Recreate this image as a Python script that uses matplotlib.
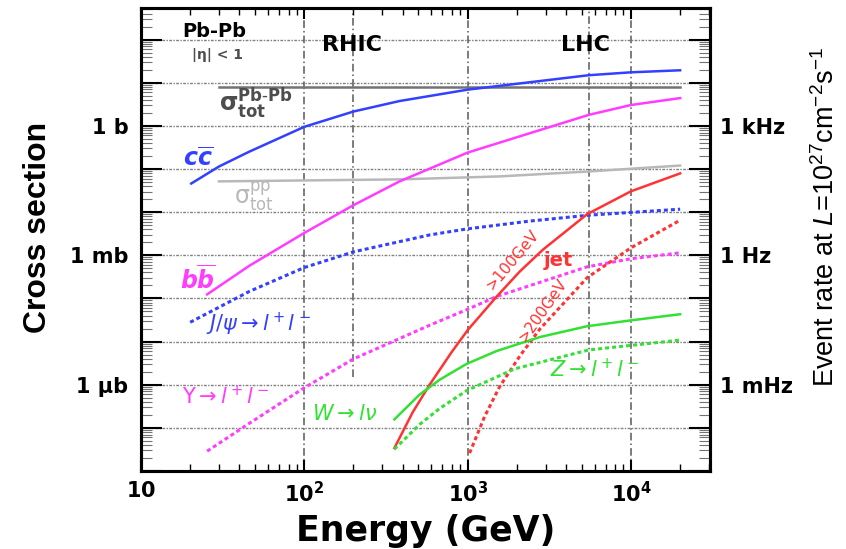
import numpy as np
import matplotlib.pyplot as plt
from matplotlib.ticker import LogLocator, NullFormatter

# energy (GeV) and cross section (barn)
E_cc = [20.3, 30, 46, 100, 200, 383, 1000, 5500, 10000, 20000]
sig_cc = [0.046, 0.114, 0.252, 0.95, 2.15, 3.76, 6.9, 14.9, 17.4, 19.4]

E_bb = [25.4, 46, 100, 200, 383, 1000, 5500, 10000, 20000]
sig_bb = [1.24e-4, 5.7e-4, 3.3e-3, 0.0145, 0.0516, 0.24, 1.79, 3.04, 4.4]

E_jpsi = [20, 46, 100, 200, 585, 986, 2400, 5520, 20000]
sig_jpsi = [2.8e-5, 1.45e-4, 5.2e-4, 1.2e-3, 2.96e-3, 4.07e-3, 6.2e-3, 8.5e-3, 0.0117]

E_ups = [25.4, 46, 100, 200, 585, 1000, 1507, 5400, 10000, 20000]
sig_ups = [2.88e-8, 1.27e-7, 8.5e-7, 3.96e-6, 2.39e-5, 5.6e-5, 1.11e-4, 5.4e-4, 8.3e-4, 1.14e-3]

E_jet100 = [356, 460, 585, 798, 1000, 1507, 2085, 2885, 5400, 10000, 20000]
sig_jet100 = [3.4e-8, 2.27e-7, 1.0e-6, 5.7e-6, 1.84e-5, 1.11e-4, 4.2e-4, 1.34e-3, 9.0e-3, 0.0304, 0.079]

E_jet200 = [1028, 1271, 1570, 2085, 2765, 5400, 10000, 20000]
sig_jet200 = [2.6e-8, 1.84e-7, 9.0e-7, 4.6e-6, 1.94e-5, 3.04e-4, 1.49e-3, 6.5e-3]

E_W = [356, 508, 673, 986, 1507, 2765, 5400, 10000, 20000]
sig_W = [1.57e-7, 5.9e-7, 1.30e-6, 3.04e-6, 6.05e-6, 1.27e-5, 2.27e-5, 3.1e-5, 4.3e-5]

E_Z = [356, 508, 673, 986, 1940, 5520, 20000]
sig_Z = [3.2e-8, 1.2e-7, 2.8e-7, 7.3e-7, 2.33e-6, 6.4e-6, 1.08e-5]

E_pbpb = [30, 20000]
sig_pbpb = [8.0, 8.0]

E_pp = [30, 383, 1570, 5520, 20000]
sig_pp = [0.0516, 0.0574, 0.0673, 0.0876, 0.120]

machines = [200, 5500]          # RHIC, LHC energies
decades_x = [10, 100, 1000, 10000]
xlabels = [r'$\mathbf{10}$', r'$\mathbf{10^2}$', r'$\mathbf{10^3}$', r'$\mathbf{10^4}$']
decades_y = 10.0 ** np.arange(-8, 3)
left_labels = {1.0: '1 b', 1e-3: '1 mb', 1e-6: '1 \u03bcb'}
right_labels = {1.0: '1 kHz', 1e-3: '1 Hz', 1e-6: '1 mHz'}

plt.rcParams['font.family'] = ['DejaVu Sans']
plt.rcParams['mathtext.fontset'] = 'dejavusans'
plt.rcParams['mathtext.rm'] = 'Liberation Sans'
plt.rcParams['mathtext.it'] = 'Liberation Sans:italic'
plt.rcParams['mathtext.bf'] = 'Liberation Sans:bold'

blue = '#3340ff'
magenta = '#ff3cff'
red = '#ff3333'
green = '#33e033'
dash = (0, (1.3, 1.0))

fig = plt.figure(figsize=(8.46, 5.49), dpi=100)
ax = fig.add_axes([0.1667, 0.1421, 0.6726, 0.8434])
ax.set_xscale('log')
ax.set_yscale('log')
ax.set_xlim(10, 3.05e4)
ax.set_ylim(1e-8, 5.4e2)

# grid: horizontal decades, vertical lines at decades and machine energies
for d in decades_y:
    ax.axhline(d, color='0.5', lw=1, ls=(0, (2, 1, 1, 1)), zorder=1)
for e in decades_x[1:]:
    ax.axvline(e, color='0.35', lw=1.1, ls=(0, (5, 2, 1, 2)), zorder=1)
ax.axvline(machines[0], ymin=0.203, color='0.35', lw=1.1, ls=(0, (5, 2, 1, 2)), zorder=1)
ax.axvline(machines[1], ymin=0.24, color='0.35', lw=1.1, ls=(0, (5, 2, 1, 2)), zorder=1)

ax.plot(E_pbpb, sig_pbpb, color='0.45', lw=1.8)
ax.plot(E_pp, sig_pp, color='0.72', lw=1.8)
ax.plot(E_cc, sig_cc, color=blue, lw=1.8)
ax.plot(E_bb, sig_bb, color=magenta, lw=1.8)
ax.plot(E_jpsi, sig_jpsi, color=blue, lw=2.2, ls=dash)
ax.plot(E_ups, sig_ups, color=magenta, lw=2.2, ls=dash)
ax.plot(E_jet100, sig_jet100, color=red, lw=1.8)
ax.plot(E_jet200, sig_jet200, color=red, lw=2.2, ls=dash)
ax.plot(E_W, sig_W, color=green, lw=1.8)
ax.plot(E_Z, sig_Z, color=green, lw=2.2, ls=dash)

# labels on the plot
ax.text(28, 152, 'Pb-Pb', fontsize=14, weight='bold', ha='center', va='center')
ax.text(29.3, 43, '|\u03b7| < 1', fontsize=10, weight='bold', color='0.3', ha='center', va='center')
ax.text(197, 76, 'RHIC', fontsize=16, weight='bold', ha='center', va='center')
ax.text(5300, 76, 'LHC', fontsize=16, weight='bold', ha='center', va='center')
ax.text(50.8, 3.3, r'$\mathbf{\sigma^{Pb\text{-}Pb}_{tot}}$', fontsize=17, color='0.3', ha='center', va='center')
ax.text(49.4, 0.023, r'$\mathrm{\sigma^{pp}_{tot}}$', fontsize=17, color='0.72', ha='center', va='center')
ax.text(22.4, 0.174, r'$\mathbfit{c\overline{c}}$', fontsize=17, color=blue, ha='center', va='center')
ax.text(22.4, 2.75e-4, r'$\mathbfit{b\overline{b}}$', fontsize=17, color=magenta, ha='center', va='center')
ax.text(25.1, 2.5e-5, r'$J/\psi\rightarrow l^+l^-$', fontsize=15, color=blue, ha='left', va='center')
ax.text(17.8, 5.3e-7, r'$\Upsilon\rightarrow l^+l^-$', fontsize=15, color=magenta, ha='left', va='center')
ax.text(112, 2.15e-7, r'$W\rightarrow l\nu$', fontsize=15, color=green, ha='left', va='center')
ax.text(3180, 2.2e-6, r'$Z\rightarrow l^+l^-$', fontsize=15, color=green, ha='left', va='center')
ax.text(3610, 7.4e-4, 'jet', fontsize=14, weight='bold', color=red, ha='center', va='center')
ax.text(1890, 7.9e-4, '>100GeV', fontsize=11, color=red, rotation=50, ha='center', va='center')
ax.text(2880, 5.3e-5, '>200GeV', fontsize=11, color=red, rotation=55, ha='center', va='center')

# axes and ticks
ax.set_xticks(decades_x)
ax.set_xticklabels(xlabels, fontsize=15)
ax.xaxis.set_minor_locator(LogLocator(base=10, subs=np.arange(2, 10), numticks=100))
ax.xaxis.set_minor_formatter(NullFormatter())
ax.tick_params(axis='x', which='major', direction='in', length=8, width=1.5, pad=7, top=True)
ax.tick_params(axis='x', which='minor', direction='in', length=5, width=1, top=True)

ax.set_yticks(decades_y)
ax.set_yticklabels([left_labels.get(d, '') for d in decades_y], fontsize=15, weight='bold')
ax.yaxis.set_minor_locator(LogLocator(base=10, subs=np.arange(2, 10), numticks=100))
ax.yaxis.set_minor_formatter(NullFormatter())
ax.tick_params(axis='y', which='major', direction='in', length=15, width=1.5, pad=9)
ax.tick_params(axis='y', which='minor', direction='in', length=8, width=0.8, color='0.45')

ax2 = ax.twinx()
ax2.set_yscale('log')
ax2.set_ylim(ax.get_ylim())
ax2.set_yticks(decades_y)
ax2.set_yticklabels([right_labels.get(d, '') for d in decades_y], fontsize=15, weight='bold')
ax2.yaxis.set_minor_locator(LogLocator(base=10, subs=np.arange(2, 10), numticks=100))
ax2.yaxis.set_minor_formatter(NullFormatter())
ax2.tick_params(axis='y', which='major', direction='in', length=15, width=1.5, pad=7)
ax2.tick_params(axis='y', which='minor', direction='in', length=8, width=0.8, color='0.45')

for a in (ax, ax2):
    for s in a.spines.values():
        s.set_linewidth(2.2)

ax.set_xlabel('Energy (GeV)', fontsize=25, weight='bold', labelpad=6)
fig.text(0.045, 0.585, 'Cross section', rotation=90, fontsize=23, weight='bold',
         family='Liberation Sans', ha='center', va='center')
fig.text(0.977, 0.605, r'Event rate at $L$=10$^{27}$cm$^{-2}$s$^{-1}$', rotation=90, fontsize=19.5,
         family='Liberation Sans', math_fontfamily='custom', ha='center', va='center')

fig.savefig('out.png', dpi=100)
